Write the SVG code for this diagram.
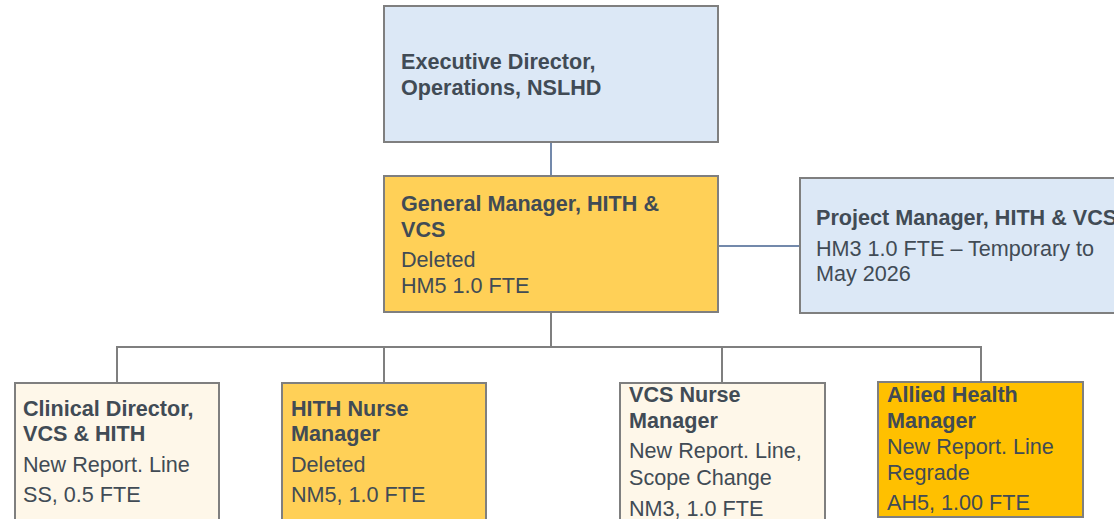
<svg xmlns="http://www.w3.org/2000/svg" width="1114" height="519" viewBox="0 0 1114 519">
<style>
.box{stroke:#7f7f7f;stroke-width:2}
.blue{fill:#dce8f6}
.gold{fill:#ffd057}
.cream{fill:#fef7e9}
.amber{fill:#ffc000}
text{font-family:"Liberation Sans",Arial,sans-serif;font-size:21.6px;fill:#414b55}
.t{font-weight:bold}
.cb{fill:none;stroke:#44628f;stroke-width:1.5}
.cg{fill:none;stroke:#7f7f7f;stroke-width:2}
</style>
<rect width="1114" height="519" fill="#ffffff"/>
<g id="connectors">
<line class="cb" x1="551" y1="142" x2="551" y2="176"/>
<line class="cb" x1="718" y1="246" x2="800" y2="246"/>
<polyline class="cg" points="551,312 551,347"/>
<line class="cg" x1="116" y1="347" x2="982" y2="347"/>
<line class="cg" x1="117" y1="347" x2="117" y2="383"/>
<line class="cg" x1="384" y1="347" x2="384" y2="383"/>
<line class="cg" x1="722" y1="347" x2="722" y2="383"/>
<line class="cg" x1="981" y1="347" x2="981" y2="382"/>
</g>
<g id="exec">
<rect class="box blue" x="384" y="6" width="334" height="136"/>
<text class="t" x="401" y="69">Executive Director,</text>
<text class="t" x="401" y="95">Operations, NSLHD</text>
</g>
<g id="gm">
<rect class="box gold" x="384" y="176" width="334" height="136"/>
<text class="t" x="401" y="211">General Manager, HITH &amp;</text>
<text class="t" x="401" y="237">VCS</text>
<text x="401" y="267">Deleted</text>
<text x="401" y="293">HM5 1.0 FTE</text>
</g>
<g id="project">
<rect class="box blue" x="800" y="178" width="330" height="135"/>
<text class="t" x="816" y="225">Project Manager, HITH &amp; VCS</text>
<text x="816" y="256">HM3 1.0 FTE – Temporary to</text>
<text x="816" y="281">May 2026</text>
</g>
<g id="clinical">
<rect class="box cream" x="15" y="383" width="204" height="145"/>
<text class="t" x="23" y="416">Clinical Director,</text>
<text class="t" x="23" y="441">VCS &amp; HITH</text>
<text x="23" y="472">New Report. Line</text>
<text x="23" y="502">SS, 0.5 FTE</text>
</g>
<g id="hith">
<rect class="box gold" x="282" y="383" width="204" height="145"/>
<text class="t" x="291" y="416">HITH Nurse</text>
<text class="t" x="291" y="441">Manager</text>
<text x="291" y="472">Deleted</text>
<text x="291" y="502">NM5, 1.0 FTE</text>
</g>
<g id="vcs">
<rect class="box cream" x="620" y="383" width="205" height="145"/>
<text class="t" x="629" y="402">VCS Nurse</text>
<text class="t" x="629" y="428">Manager</text>
<text x="629" y="458">New Report. Line,</text>
<text x="629" y="485">Scope Change</text>
<text x="629" y="516">NM3, 1.0 FTE</text>
</g>
<g id="allied">
<rect class="box amber" x="878" y="382" width="205" height="135"/>
<text class="t" x="887" y="402">Allied Health</text>
<text class="t" x="887" y="428">Manager</text>
<text x="887" y="454">New Report. Line</text>
<text x="887" y="480">Regrade</text>
<text x="887" y="510">AH5, 1.00 FTE</text>
</g>
</svg>
